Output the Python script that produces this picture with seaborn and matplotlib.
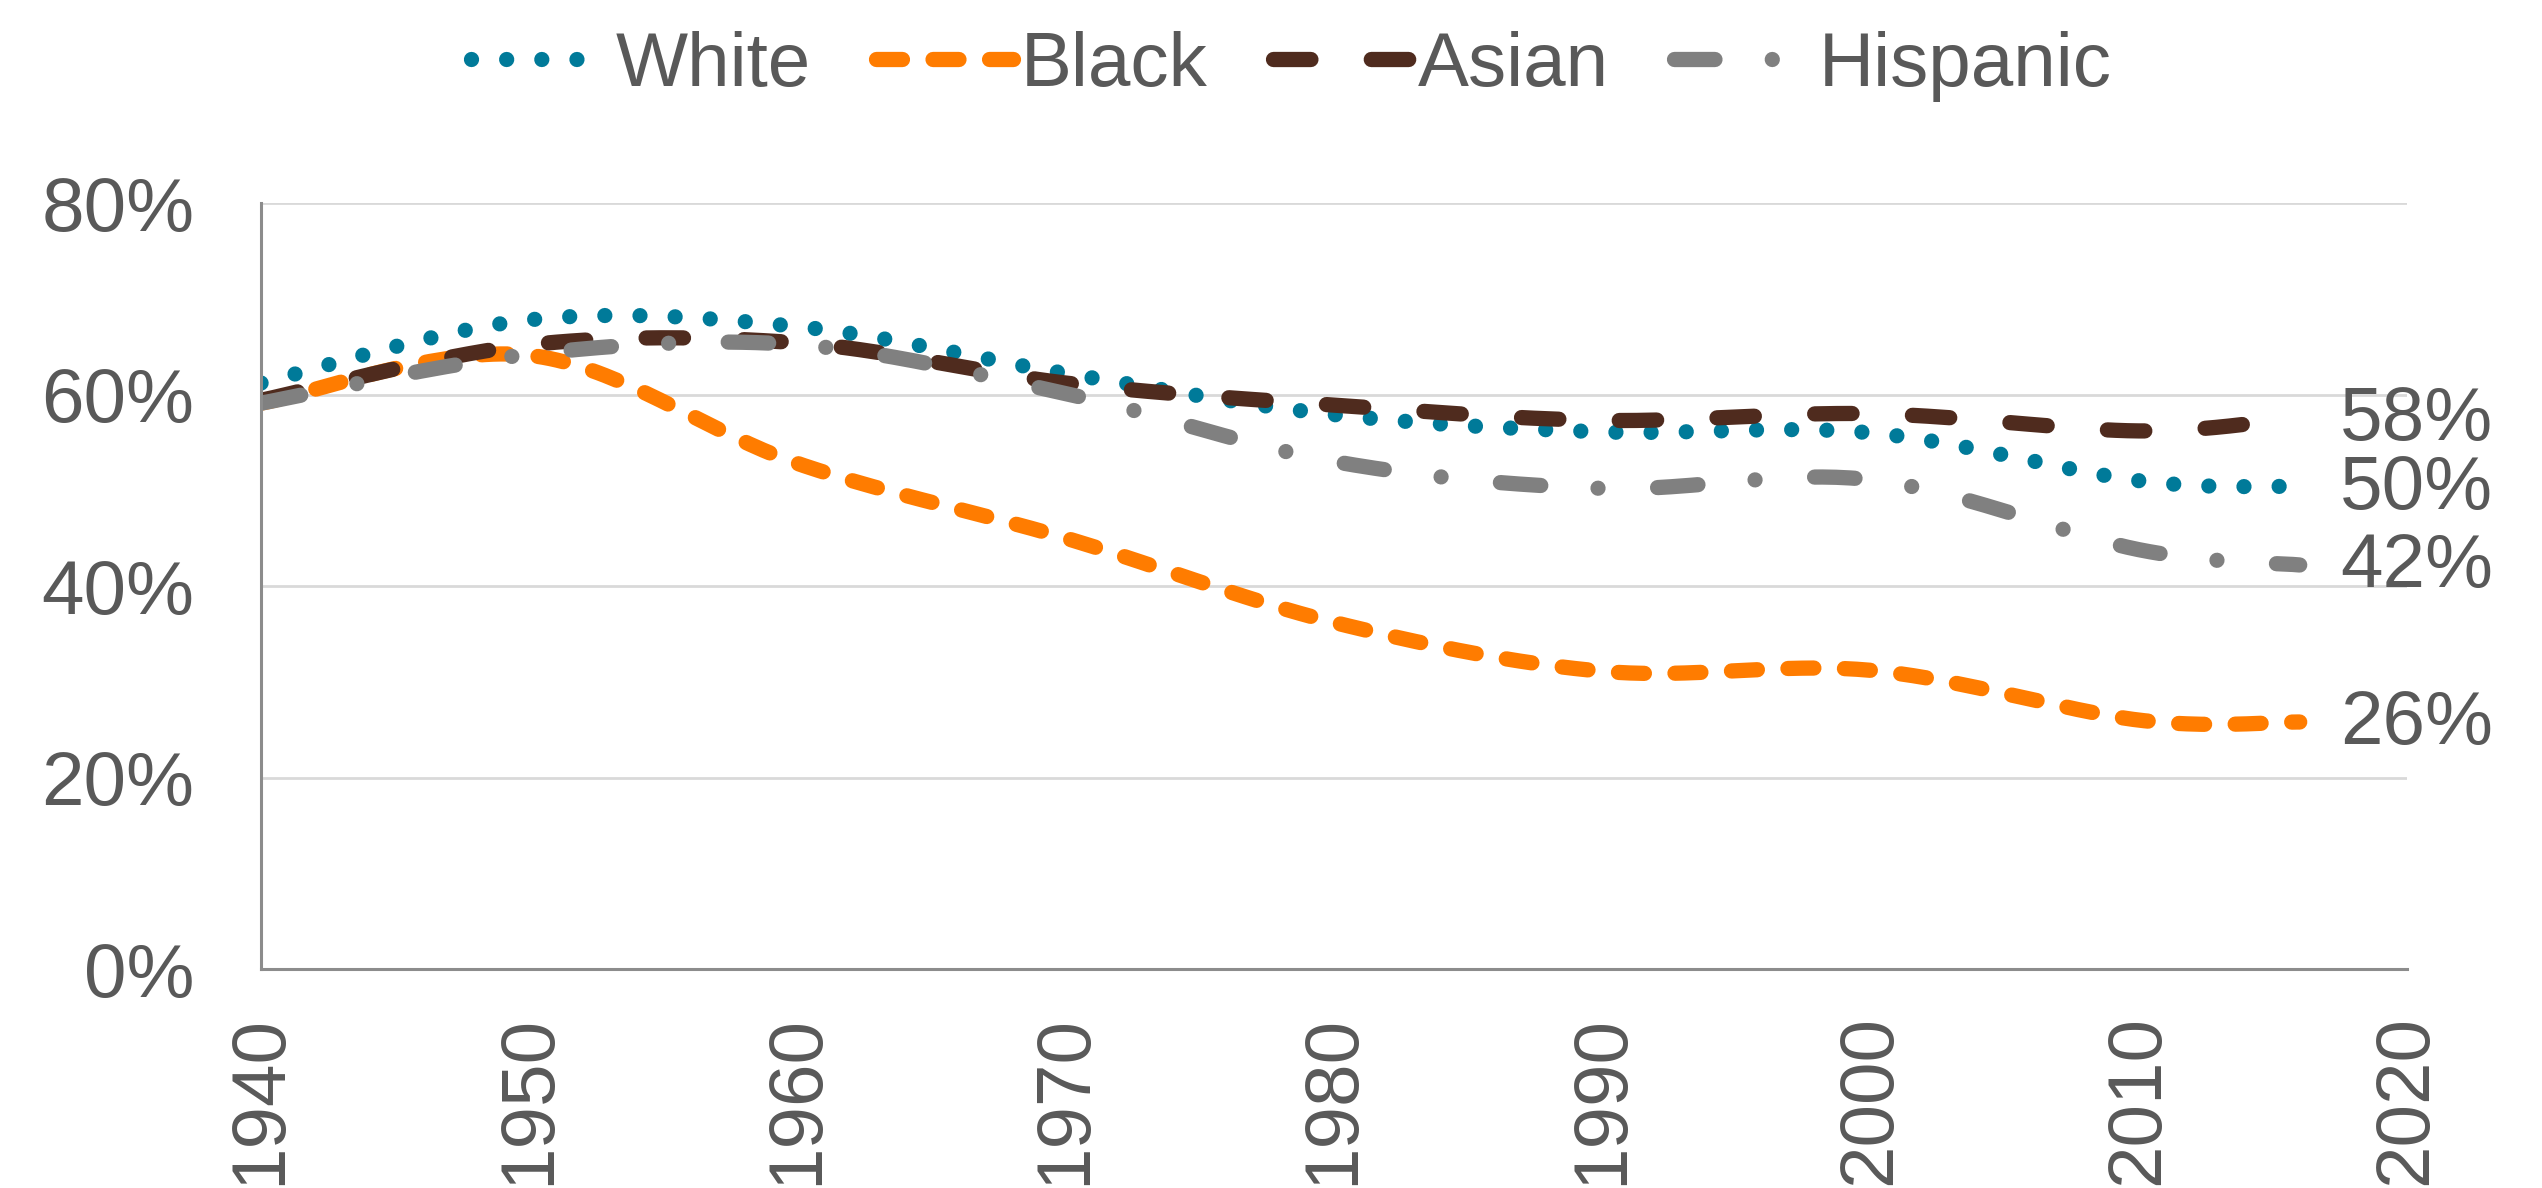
import matplotlib
matplotlib.use("Agg")
import matplotlib.pyplot as plt
import numpy as np
import pandas as pd
import seaborn as sns

# Share of households (percent) by race / ethnicity
years = [1940, 1950, 1960, 1970, 1980, 1990, 2000, 2010, 2016]
white = [61.2, 67.8, 67.1, 62.2, 57.9, 56.1, 56.0, 51.0, 50.4]
black = [59.1, 64.1, 52.8, 45.0, 36.2, 31.1, 31.2, 26.0, 25.8]
asian = [59.4, 65.2, 65.4, 61.2, 58.9, 57.3, 58.0, 56.2, 57.6]
hispanic = [59.1, 64.2, 65.2, 60.1, 53.0, 50.2, 51.1, 43.8, 42.2]

series_names = ["White", "Black", "Asian", "Hispanic"]
series_values = [white, black, asian, hispanic]
colors = ["#007A99", "#FF7C00", "#4F2B1E", "#808080"]
# dash patterns in line-width units (round caps)
dash_patterns = [(0.001, 2.3), (1.7, 2.0), (2.45, 3.95), (2.65, 3.75, 0.001, 3.9)]

y_ticks = [0, 20, 40, 60, 80]
x_ticks = list(range(1940, 2021, 10))

TEXT = "#595959"
FS = 55
LW = 11


def smooth_curve(xs, ys, steps=40):
    # Excel-style smoothed line: Bezier segments with Catmull-Rom control points
    pts = np.column_stack([xs, ys]).astype(float)
    padded = np.vstack([pts[0], pts, pts[-1]])
    t = np.linspace(0, 1, steps)[:, None]
    out = []
    for i in range(len(pts) - 1):
        p0, p3 = padded[i + 1], padded[i + 2]
        c1 = p0 + (padded[i + 2] - padded[i]) / 6
        c2 = p3 - (padded[i + 3] - padded[i + 1]) / 6
        seg = (1 - t) ** 3 * p0 + 3 * (1 - t) ** 2 * t * c1 + 3 * (1 - t) * t ** 2 * c2 + t ** 3 * p3
        out.append(seg if i == 0 else seg[1:])
    out = np.vstack(out)
    return out[:, 0], out[:, 1]


sns.set_theme(style="white")
plt.rcParams["font.family"] = ["Liberation Sans", "DejaVu Sans"]

fig = plt.figure(figsize=(25.42, 11.88), dpi=100)
ax = fig.add_axes([0.1027, 0.1843, 0.8442, 0.6448])

for name, vals, color, dash in zip(series_names, series_values, colors, dash_patterns):
    sx, sy = smooth_curve(years, vals)
    df = pd.DataFrame({"year": sx, "share": sy})
    sns.lineplot(data=df, x="year", y="share", ax=ax, color=color,
                 sort=False, estimator=None, legend=False)
    line = ax.lines[-1]
    line.set_linewidth(LW)
    line.set_linestyle((0, dash))
    line.set_dash_capstyle("round")
    line.set_solid_capstyle("round")
    line.set_label(name)
    # end label
    ax.annotate(f"{round(vals[-1])}%", xy=(years[-1], vals[-1]), xytext=(29, -2),
                textcoords="offset points", ha="left", va="center",
                fontsize=FS, color=TEXT, annotation_clip=False)

ax.set_xlim(1940, 2020)
ax.set_ylim(0, 80)
ax.set_xticks(x_ticks)
ax.set_xticklabels([str(x) for x in x_ticks], rotation=90, fontsize=FS, color=TEXT)
ax.set_yticks(y_ticks)
ax.set_yticklabels([f"{v}%" for v in y_ticks], fontsize=FS, color=TEXT)
ax.tick_params(axis="x", length=0, pad=33)
ax.tick_params(axis="y", length=0, pad=48)
ax.set_xlabel("")
ax.set_ylabel("")

ax.yaxis.grid(True, color="#D9D9D9", lw=2)
ax.xaxis.grid(False)
ax.set_axisbelow(True)
for side in ["top", "right"]:
    ax.spines[side].set_visible(False)
for side in ["left", "bottom"]:
    ax.spines[side].set_color("#8C8C8C")
    ax.spines[side].set_linewidth(2.2)

fig.legend(handles=ax.lines[:4], labels=series_names, loc="center",
           bbox_to_anchor=(0.508, 0.944), ncol=4, frameon=False,
           fontsize=FS, labelcolor=TEXT, handlelength=1.8,
           handletextpad=0.1, columnspacing=0.85)

fig.savefig("out.png", dpi=100)
